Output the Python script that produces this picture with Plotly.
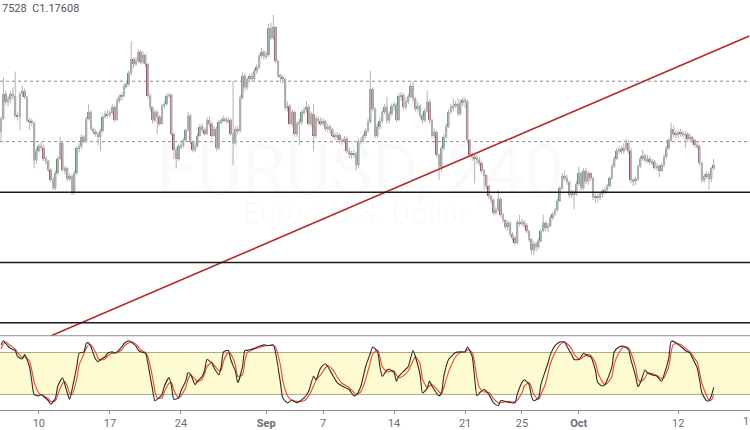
import plotly.graph_objects as go

# ---------------- data (EURUSD 4H, bar index 0..301) ----------------
open_ = [1.1816,1.1838,1.1879,1.1866,1.1870,1.1879,1.1875,1.1843,1.1841,1.1879,
1.1884,1.1874,1.1835,1.1834,1.1831,1.1769,1.1785,1.1793,1.1790,1.1772,
1.1768,1.1753,1.1737,1.1723,1.1748,1.1772,1.1797,1.1753,1.1756,1.1738,
1.1743,1.1715,1.1748,1.1789,1.1792,1.1808,1.1800,1.1838,1.1849,1.1821,
1.1816,1.1813,1.1808,1.1818,1.1841,1.1846,1.1844,1.1848,1.1857,1.1836,
1.1868,1.1874,1.1876,1.1892,1.1895,1.1914,1.1936,1.1928,1.1934,1.1948,
1.1931,1.1943,1.1928,1.1876,1.1857,1.1835,1.1849,1.1841,1.1830,1.1859,
1.1862,1.1876,1.1877,1.1813,1.1786,1.1772,1.1792,1.1794,1.1802,1.1819,
1.1843,1.1800,1.1786,1.1793,1.1810,1.1825,1.1820,1.1813,1.1835,1.1830,
1.1810,1.1821,1.1789,1.1832,1.1835,1.1838,1.1834,1.1836,1.1813,1.1797,
1.1821,1.1818,1.1873,1.1909,1.1890,1.1903,1.1908,1.1904,1.1917,1.1923,
1.1942,1.1948,1.1941,1.1944,1.1988,1.1972,1.1989,1.1933,1.1909,1.1907,
1.1903,1.1857,1.1859,1.1830,1.1849,1.1813,1.1830,1.1833,1.1849,1.1852,
1.1857,1.1830,1.1846,1.1810,1.1838,1.1834,1.1830,1.1834,1.1821,1.1825,
1.1820,1.1810,1.1808,1.1811,1.1802,1.1800,1.1805,1.1784,1.1780,1.1779,
1.1780,1.1761,1.1800,1.1802,1.1810,1.1818,1.1833,1.1887,1.1854,1.1810,
1.1825,1.1834,1.1849,1.1857,1.1835,1.1846,1.1859,1.1861,1.1836,1.1875,
1.1877,1.1857,1.1866,1.1874,1.1892,1.1871,1.1854,1.1859,1.1843,1.1835,
1.1851,1.1866,1.1835,1.1810,1.1816,1.1778,1.1758,1.1789,1.1808,1.1825,
1.1849,1.1857,1.1859,1.1862,1.1846,1.1864,1.1869,1.1866,1.1802,1.1778,
1.1775,1.1772,1.1770,1.1764,1.1752,1.1744,1.1726,1.1710,1.1703,1.1682,
1.1687,1.1705,1.1679,1.1670,1.1659,1.1666,1.1647,1.1641,1.1633,1.1667,
1.1664,1.1667,1.1662,1.1652,1.1638,1.1620,1.1631,1.1625,1.1636,1.1652,
1.1666,1.1657,1.1661,1.1674,1.1680,1.1687,1.1702,1.1723,1.1743,1.1739,
1.1733,1.1711,1.1716,1.1713,1.1730,1.1748,1.1723,1.1752,1.1734,1.1748,
1.1739,1.1708,1.1710,1.1707,1.1713,1.1718,1.1720,1.1726,1.1739,1.1759,
1.1772,1.1785,1.1787,1.1784,1.1789,1.1798,1.1785,1.1736,1.1734,1.1738,
1.1759,1.1772,1.1777,1.1769,1.1772,1.1766,1.1767,1.1757,1.1759,1.1752,
1.1761,1.1775,1.1789,1.1802,1.1821,1.1813,1.1811,1.1815,1.1814,1.1811,
1.1812,1.1805,1.1808,1.1802,1.1795,1.1792,1.1764,1.1736,1.1743,1.1746,
1.1738,1.1756]

high = [1.1841,1.1907,1.1884,1.1876,1.1884,1.1890,1.1916,1.1848,1.1882,1.1893,
1.1888,1.1876,1.1840,1.1838,1.1833,1.1789,1.1797,1.1800,1.1794,1.1776,
1.1770,1.1756,1.1742,1.1752,1.1776,1.1808,1.1800,1.1760,1.1757,1.1748,
1.1745,1.1752,1.1793,1.1797,1.1812,1.1811,1.1841,1.1862,1.1852,1.1823,
1.1820,1.1816,1.1821,1.1845,1.1851,1.1852,1.1853,1.1862,1.1860,1.1872,
1.1878,1.1882,1.1897,1.1899,1.1918,1.1966,1.1940,1.1940,1.1953,1.1952,
1.1950,1.1946,1.1930,1.1880,1.1858,1.1853,1.1852,1.1844,1.1862,1.1866,
1.1880,1.1881,1.1880,1.1815,1.1790,1.1796,1.1798,1.1806,1.1822,1.1849,
1.1846,1.1802,1.1798,1.1814,1.1829,1.1830,1.1824,1.1840,1.1842,1.1833,
1.1826,1.1825,1.1836,1.1840,1.1843,1.1841,1.1840,1.1839,1.1900,1.1825,
1.1826,1.1877,1.1915,1.1914,1.1907,1.1913,1.1914,1.1921,1.1928,1.1946,
1.1955,1.1952,1.1950,1.1995,1.1997,1.2010,1.1991,1.1936,1.1912,1.1910,
1.1905,1.1866,1.1862,1.1853,1.1851,1.1834,1.1838,1.1853,1.1858,1.1867,
1.1862,1.1850,1.1862,1.1842,1.1842,1.1840,1.1839,1.1836,1.1830,1.1828,
1.1823,1.1815,1.1816,1.1814,1.1806,1.1810,1.1808,1.1790,1.1785,1.1786,
1.1783,1.1805,1.1808,1.1813,1.1822,1.1838,1.1917,1.1890,1.1857,1.1830,
1.1840,1.1853,1.1862,1.1874,1.1850,1.1863,1.1866,1.1864,1.1880,1.1882,
1.1880,1.1872,1.1879,1.1897,1.1900,1.1874,1.1866,1.1862,1.1846,1.1855,
1.1884,1.1870,1.1838,1.1822,1.1818,1.1780,1.1793,1.1812,1.1830,1.1853,
1.1862,1.1871,1.1868,1.1872,1.1870,1.1874,1.1874,1.1870,1.1804,1.1782,
1.1780,1.1778,1.1775,1.1768,1.1755,1.1746,1.1728,1.1712,1.1706,1.1692,
1.1720,1.1708,1.1682,1.1672,1.1670,1.1668,1.1650,1.1644,1.1671,1.1679,
1.1672,1.1670,1.1665,1.1654,1.1640,1.1636,1.1634,1.1640,1.1656,1.1679,
1.1668,1.1665,1.1678,1.1684,1.1690,1.1706,1.1727,1.1748,1.1752,1.1745,
1.1735,1.1720,1.1720,1.1735,1.1759,1.1750,1.1756,1.1757,1.1752,1.1750,
1.1742,1.1715,1.1714,1.1717,1.1722,1.1725,1.1730,1.1743,1.1763,1.1776,
1.1789,1.1792,1.1793,1.1797,1.1805,1.1802,1.1790,1.1740,1.1742,1.1762,
1.1777,1.1787,1.1780,1.1778,1.1776,1.1772,1.1770,1.1764,1.1762,1.1765,
1.1779,1.1793,1.1806,1.1831,1.1826,1.1818,1.1820,1.1821,1.1818,1.1818,
1.1816,1.1813,1.1810,1.1805,1.1800,1.1795,1.1767,1.1747,1.1751,1.1750,
1.1758,1.1772]

low = [1.1800,1.1836,1.1860,1.1858,1.1864,1.1870,1.1840,1.1835,1.1819,1.1874,
1.1870,1.1832,1.1819,1.1825,1.1756,1.1763,1.1782,1.1785,1.1768,1.1762,
1.1750,1.1733,1.1720,1.1720,1.1745,1.1770,1.1750,1.1745,1.1734,1.1735,
1.1711,1.1713,1.1745,1.1782,1.1788,1.1797,1.1798,1.1835,1.1818,1.1812,
1.1808,1.1794,1.1784,1.1815,1.1838,1.1840,1.1840,1.1845,1.1832,1.1834,
1.1864,1.1868,1.1873,1.1888,1.1892,1.1910,1.1922,1.1925,1.1930,1.1928,
1.1928,1.1924,1.1872,1.1850,1.1830,1.1832,1.1813,1.1826,1.1828,1.1855,
1.1860,1.1872,1.1810,1.1772,1.1756,1.1768,1.1787,1.1790,1.1800,1.1817,
1.1796,1.1782,1.1783,1.1790,1.1808,1.1815,1.1810,1.1811,1.1825,1.1805,
1.1808,1.1784,1.1786,1.1829,1.1832,1.1830,1.1830,1.1810,1.1761,1.1795,
1.1812,1.1815,1.1870,1.1885,1.1886,1.1898,1.1900,1.1900,1.1912,1.1920,
1.1938,1.1935,1.1936,1.1940,1.1968,1.1968,1.1930,1.1905,1.1898,1.1896,
1.1852,1.1850,1.1826,1.1825,1.1808,1.1808,1.1794,1.1828,1.1845,1.1848,
1.1826,1.1825,1.1784,1.1806,1.1828,1.1826,1.1826,1.1817,1.1815,1.1812,
1.1806,1.1802,1.1803,1.1797,1.1794,1.1797,1.1780,1.1772,1.1772,1.1773,
1.1753,1.1756,1.1795,1.1798,1.1806,1.1815,1.1830,1.1850,1.1806,1.1806,
1.1820,1.1830,1.1845,1.1830,1.1830,1.1843,1.1852,1.1832,1.1834,1.1868,
1.1852,1.1853,1.1862,1.1872,1.1866,1.1850,1.1848,1.1838,1.1830,1.1832,
1.1848,1.1830,1.1805,1.1805,1.1774,1.1737,1.1750,1.1785,1.1805,1.1822,
1.1846,1.1850,1.1855,1.1842,1.1843,1.1858,1.1855,1.1798,1.1774,1.1768,
1.1731,1.1763,1.1760,1.1748,1.1720,1.1722,1.1705,1.1698,1.1678,1.1678,
1.1684,1.1675,1.1666,1.1655,1.1652,1.1643,1.1636,1.1628,1.1630,1.1660,
1.1660,1.1657,1.1648,1.1634,1.1613,1.1612,1.1618,1.1622,1.1633,1.1650,
1.1652,1.1650,1.1658,1.1670,1.1677,1.1684,1.1700,1.1720,1.1735,1.1728,
1.1706,1.1706,1.1688,1.1710,1.1726,1.1719,1.1720,1.1730,1.1728,1.1735,
1.1703,1.1698,1.1700,1.1703,1.1708,1.1713,1.1717,1.1724,1.1737,1.1756,
1.1770,1.1780,1.1779,1.1780,1.1785,1.1780,1.1731,1.1726,1.1728,1.1735,
1.1756,1.1768,1.1765,1.1765,1.1762,1.1760,1.1753,1.1752,1.1741,1.1750,
1.1758,1.1772,1.1786,1.1799,1.1808,1.1805,1.1806,1.1808,1.1806,1.1789,
1.1800,1.1800,1.1797,1.1790,1.1787,1.1760,1.1732,1.1732,1.1738,1.1720,
1.1733,1.1753]

close = [1.1838,1.1879,1.1866,1.1870,1.1879,1.1875,1.1843,1.1841,1.1879,1.1884,
1.1874,1.1835,1.1834,1.1831,1.1769,1.1785,1.1793,1.1790,1.1772,1.1768,
1.1753,1.1737,1.1723,1.1748,1.1772,1.1797,1.1753,1.1756,1.1738,1.1743,
1.1715,1.1748,1.1789,1.1792,1.1808,1.1800,1.1838,1.1849,1.1821,1.1816,
1.1813,1.1808,1.1818,1.1841,1.1846,1.1844,1.1848,1.1857,1.1836,1.1868,
1.1874,1.1876,1.1892,1.1895,1.1914,1.1936,1.1928,1.1934,1.1948,1.1931,
1.1943,1.1928,1.1876,1.1857,1.1835,1.1849,1.1841,1.1830,1.1859,1.1862,
1.1876,1.1877,1.1813,1.1786,1.1772,1.1792,1.1794,1.1802,1.1819,1.1843,
1.1800,1.1786,1.1793,1.1810,1.1825,1.1820,1.1813,1.1835,1.1830,1.1810,
1.1821,1.1789,1.1832,1.1835,1.1838,1.1834,1.1836,1.1813,1.1797,1.1821,
1.1818,1.1873,1.1909,1.1890,1.1903,1.1908,1.1904,1.1917,1.1923,1.1942,
1.1948,1.1941,1.1944,1.1988,1.1972,1.1989,1.1933,1.1909,1.1907,1.1903,
1.1857,1.1859,1.1830,1.1849,1.1813,1.1830,1.1833,1.1849,1.1852,1.1857,
1.1830,1.1846,1.1810,1.1838,1.1834,1.1830,1.1834,1.1821,1.1825,1.1820,
1.1810,1.1808,1.1811,1.1802,1.1800,1.1805,1.1784,1.1780,1.1779,1.1780,
1.1761,1.1800,1.1802,1.1810,1.1818,1.1833,1.1887,1.1854,1.1810,1.1825,
1.1834,1.1849,1.1857,1.1835,1.1846,1.1859,1.1861,1.1836,1.1875,1.1877,
1.1857,1.1866,1.1874,1.1892,1.1871,1.1854,1.1859,1.1843,1.1835,1.1851,
1.1866,1.1835,1.1810,1.1816,1.1778,1.1758,1.1789,1.1808,1.1825,1.1849,
1.1857,1.1859,1.1862,1.1846,1.1864,1.1869,1.1866,1.1802,1.1778,1.1775,
1.1772,1.1770,1.1764,1.1752,1.1744,1.1726,1.1710,1.1703,1.1682,1.1687,
1.1705,1.1679,1.1670,1.1659,1.1666,1.1647,1.1641,1.1633,1.1667,1.1664,
1.1667,1.1662,1.1652,1.1638,1.1620,1.1631,1.1625,1.1636,1.1652,1.1666,
1.1657,1.1661,1.1674,1.1680,1.1687,1.1702,1.1723,1.1743,1.1739,1.1733,
1.1711,1.1716,1.1713,1.1730,1.1748,1.1723,1.1752,1.1734,1.1748,1.1739,
1.1708,1.1710,1.1707,1.1713,1.1718,1.1720,1.1726,1.1739,1.1759,1.1772,
1.1785,1.1787,1.1784,1.1789,1.1798,1.1785,1.1736,1.1734,1.1738,1.1759,
1.1772,1.1777,1.1769,1.1772,1.1766,1.1767,1.1757,1.1759,1.1752,1.1761,
1.1775,1.1789,1.1802,1.1821,1.1813,1.1811,1.1815,1.1814,1.1811,1.1812,
1.1805,1.1808,1.1802,1.1795,1.1792,1.1764,1.1736,1.1743,1.1746,1.1738,
1.1756,1.1761]

# Stochastic (%K black, %D red) sampled at bar indices
stoch_idx = [0,1,2,4,6,7,9,10,12,13,14,16,17,18,20,21,23,24,26,27,28,29,30,32,33,35,36,37,38,40,
41,42,44,45,47,48,49,51,52,54,55,57,58,59,61,62,64,65,66,68,69,71,72,73,75,76,78,79,80,82,
83,85,86,87,89,90,92,93,94,96,97,99,100,102,103,104,
105,107,109,111,113,115,116,118,119,121,123,125,128,130,132,133,135,137,138,140,142,144,147,149,
150,152,154,156,157,159,160,161,163,164,166,167,168,170,172,174,175,177,178,180,181,182,185,186,
187,189,192,194,196,197,199,201,202,204,206,208,210,
211,212,214,217,218,220,221,223,224,225,227,228,230,231,232,234,236,238,239,241,242,244,245,246,
248,249,251,252,254,255,256,258,259,261,263,265,266,268,269,270,272,273,275,277,279,280,282,283,
284,287,289,291,292,294,295,296,298,299,300,301]
stoch_k = [91,97,93,86,83,74,71,77,60,39,20,18,20,17,11,6,15,32,44,34,22,13,27,60,79,81,93,94,88,70,
67,70,74,79,81,79,81,88,93,97,95,89,83,81,79,65,27,11,13,20,32,44,32,13,15,25,39,51,49,34,
39,46,55,70,65,58,48,60,81,83,70,53,37,60,83,83,
84,86,89,91,90,91,79,37,15,8,12,8,15,25,46,41,58,64,60,48,37,32,27,18,
19,32,60,79,88,81,60,46,55,56,51,39,46,53,60,83,74,48,22,29,39,32,18,22,
46,70,80,81,81,88,74,18,22,27,20,8,4,
11,11,9,8,20,37,41,34,18,11,15,34,55,65,77,90,95,95,89,77,70,70,74,79,
75,74,55,37,32,34,41,60,81,88,89,84,70,46,31,37,55,51,48,46,39,48,72,96,
96,89,83,79,72,58,41,22,11,11,18,30]
stoch_d = [85,92,95,90,85,80,73,74,68,55,38,22,19,18,14,10,11,20,36,38,32,22,20,42,62,78,86,91,91,80,
72,69,71,75,79,80,80,84,89,94,95,92,88,84,80,74,45,25,15,15,24,36,37,26,15,18,30,42,48,42,
38,42,50,60,66,62,54,55,68,80,78,62,46,48,68,80,
82,85,87,89,90,90,87,62,40,18,11,10,11,18,32,40,48,58,61,56,45,36,30,23,
20,24,42,66,78,84,74,60,52,53,54,48,44,47,54,68,74,64,42,30,32,34,24,21,
30,52,74,80,81,84,80,44,30,24,23,14,8,
8,9,10,9,12,22,32,37,30,20,13,20,36,50,64,80,91,95,93,85,78,71,71,74,
77,76,66,52,38,34,36,46,64,80,88,87,80,58,42,38,44,50,50,47,43,44,60,80,
92,92,86,81,76,66,52,36,18,12,12,20]

# Chart annotations / levels
level_solid = [1.1716, 1.1600, 1.1500]
level_dotted = [1.1900, 1.1800]
trend_idx = [0, 316]
trend_px = [1.1443, 1.1975]
band_lo, band_hi = 20, 80
tick_idx = [16, 46, 76, 112, 136, 166, 196, 220, 244, 286, 316]
tick_text = ["10", "17", "24", "<b>Sep</b>", "7", "14", "21", "25", "<b>Oct</b>", "12", "19"]

# ---------------- figure ----------------
idx = list(range(len(close)))
GREEN = "#2f9455"
RED = "#b02433"
GREY = "#b3b3b3"
TICKFONT = dict(family="Roboto, Arial, sans-serif", size=11, color="#6b6e78")

body_base = [min(o, c) for o, c in zip(open_, close)]
body_h = [max(abs(c - o), 0.00006) for o, c in zip(open_, close)]
body_col = [GREEN if c >= o else RED for o, c in zip(open_, close)]

fig = go.Figure()

fig.add_trace(go.Candlestick(
    x=idx, open=open_, high=high, low=low, close=close,
    increasing=dict(line=dict(color=GREY, width=1), fillcolor=GREY),
    decreasing=dict(line=dict(color=GREY, width=1), fillcolor=GREY),
    whiskerwidth=0, showlegend=False, hoverinfo="skip", xaxis="x", yaxis="y"))

fig.add_trace(go.Bar(
    x=idx, y=body_h, base=body_base, width=0.78,
    marker=dict(color=body_col, line=dict(width=0)),
    showlegend=False, hoverinfo="skip", xaxis="x", yaxis="y"))

fig.add_trace(go.Scatter(
    x=trend_idx, y=trend_px, mode="lines",
    line=dict(color="#b22a2a", width=1.6),
    showlegend=False, hoverinfo="skip", xaxis="x", yaxis="y"))

fig.add_trace(go.Scatter(
    x=stoch_idx, y=stoch_d, mode="lines", line=dict(color="#f0442c", width=1.1, shape="spline", smoothing=0.6),
    showlegend=False, hoverinfo="skip", xaxis="x", yaxis="y2"))
fig.add_trace(go.Scatter(
    x=stoch_idx, y=stoch_k, mode="lines", line=dict(color="#2b2b2b", width=1.1, shape="spline", smoothing=0.6),
    showlegend=False, hoverinfo="skip", xaxis="x", yaxis="y2"))

shapes = []
for lv in level_solid:
    shapes.append(dict(type="line", xref="paper", yref="y", x0=0, x1=1, y0=lv, y1=lv,
                       line=dict(color="#1a1a1a", width=1.5), layer="above"))
for lv in level_dotted:
    shapes.append(dict(type="line", xref="paper", yref="y", x0=0, x1=1, y0=lv, y1=lv,
                       line=dict(color="#8a8a8a", width=1, dash="dot"), layer="below"))
shapes.append(dict(type="rect", xref="paper", yref="y2", x0=0, x1=1, y0=band_lo, y1=band_hi,
                   fillcolor="#fdfbcf", line=dict(width=0), layer="below"))
for lv in (band_lo, band_hi):
    shapes.append(dict(type="line", xref="paper", yref="y2", x0=0, x1=1, y0=lv, y1=lv,
                       line=dict(color="#a9a98e", width=1), layer="below"))
shapes.append(dict(type="line", xref="paper", yref="y2 domain", x0=0, x1=1, y0=1, y1=1,
                   line=dict(color="#8c8c8c", width=1)))

stoch_frac = 75 / 414

annotations = [
    dict(text="EURUSD, 240", xref="paper", yref="paper", x=0.48, y=1 - 128 / 414, showarrow=False,
         font=dict(family="Roboto, Arial, sans-serif", size=70, color="rgba(120,123,134,0.035)")),
    dict(text="Euro / U.S. Dollar", xref="paper", yref="paper", x=0.475, y=1 - 215 / 414, showarrow=False,
         font=dict(family="Roboto, Arial, sans-serif", size=30, color="rgba(120,123,134,0.035)")),
    dict(text="7528  C1.17608", xref="paper", yref="paper", x=0, y=1 - 9 / 414, xanchor="left",
         yanchor="middle", showarrow=False,
         font=dict(family="Roboto, Arial, sans-serif", size=11, color="#50535e")),
    # last tick label sits on the right edge and is partly cut off, as in the source
    dict(text=tick_text[-1], xref="x", yref="paper", x=tick_idx[-1], y=0, yanchor="top", yshift=-3,
         showarrow=False, font=TICKFONT),
]

fig.update_layout(
    width=750, height=430,
    margin=dict(l=0, r=0, t=0, b=16),
    paper_bgcolor="white", plot_bgcolor="white",
    barmode="overlay", bargap=0,
    showlegend=False,
    shapes=shapes,
    xaxis=dict(range=[-0.42, 316.3], anchor="y2", tickmode="array", tickvals=tick_idx[:-1], ticktext=tick_text[:-1],
               showgrid=False, zeroline=False, showline=True, linecolor="#8c8c8c", linewidth=1,
               ticks="outside", ticklen=3, tickcolor="#8c8c8c",
               tickfont=TICKFONT,
               rangeslider=dict(visible=False), fixedrange=True),
    yaxis=dict(domain=[stoch_frac, 1], range=[1.147869, 1.203443], visible=False, showgrid=False, fixedrange=True),
    yaxis2=dict(domain=[0, stoch_frac], range=[-2.3, 104.1], visible=False, showgrid=False, fixedrange=True),
    annotations=annotations,
)

fig.write_html("out.html", config={"displayModeBar": False},
               post_script="document.body.style.margin='0';document.body.style.overflow='hidden';")
